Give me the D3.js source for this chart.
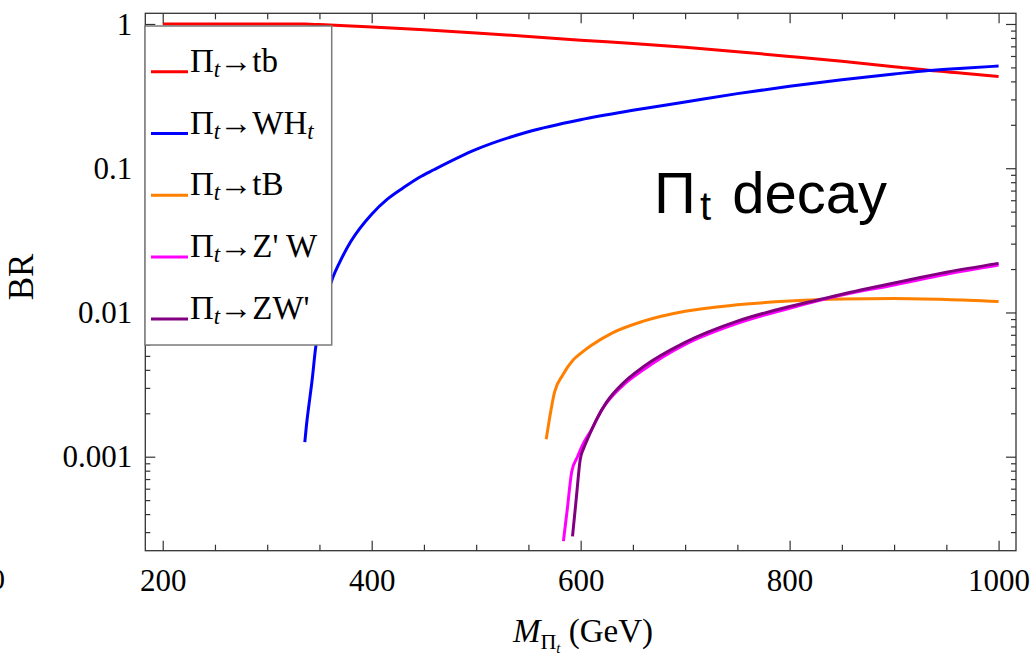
<!DOCTYPE html>
<html>
<head>
<meta charset="utf-8">
<script src="https://cdn.jsdelivr.net/npm/d3@7"></script>
<style>
  html, body { margin: 0; padding: 0; background: #fff; }
  svg { display: block; }
  .tick text { font-family: "Liberation Serif", "Times New Roman", serif; font-size: 31px; fill: #000; }
</style>
</head>
<body>
<svg id="chart" width="1034" height="655"></svg>
<script>
// Branching ratios of the top-pion Π_t versus its mass (GeV)
const massTb   = [200, 300, 336, 350, 380, 400, 450, 500, 550, 600, 650, 700, 750, 800, 850, 900, 933, 966, 1000];
const brTb     = [1.0, 1.0, 0.999, 0.99, 0.969, 0.952, 0.911, 0.866, 0.82, 0.772, 0.733, 0.69, 0.643, 0.596, 0.551, 0.506, 0.477, 0.455, 0.433];

const massWHt  = [336, 338, 340, 343, 346.5, 350, 355, 363, 369, 380, 400, 415, 430, 445, 460, 500, 550, 600, 650, 700, 750, 800, 850, 900, 933, 966, 1000];
const brWHt    = [0.00126, 0.00176, 0.0023, 0.0034, 0.0058, 0.0078, 0.0115, 0.0176, 0.022, 0.031, 0.048, 0.061, 0.073, 0.086, 0.098, 0.135, 0.179, 0.217, 0.252, 0.288, 0.329, 0.37, 0.41, 0.45, 0.476, 0.494, 0.511];

const massTB   = [567, 570, 575, 583, 593, 600, 610, 630, 660, 700, 750, 800, 850, 900, 950, 1000];
const brTB     = [0.00132, 0.0018, 0.0028, 0.0037, 0.0047, 0.0052, 0.0059, 0.0072, 0.0087, 0.0102, 0.0113, 0.012, 0.0124, 0.0125, 0.0123, 0.0119];

const massZpW  = [583.5, 587, 591.5, 597, 602.7, 610, 620, 640, 660, 700, 750, 800, 850, 900, 950, 1000];
const brZpW    = [0.00026, 0.00042, 0.00079, 0.001, 0.00124, 0.00152, 0.0021, 0.0031, 0.004, 0.006, 0.0084, 0.0107, 0.0132, 0.0155, 0.0184, 0.0213];

const massZWp  = [592.2, 596, 599.5, 603, 607.5, 615, 625, 640, 660, 700, 750, 800, 827, 868, 900, 950, 1000];
const brZWp    = [0.00028, 0.00053, 0.00095, 0.00115, 0.00137, 0.0018, 0.0024, 0.0032, 0.0042, 0.0062, 0.0087, 0.011, 0.0122, 0.0143, 0.016, 0.019, 0.0219];

const xMajorTicks = [200, 400, 600, 800, 1000];
const xTickLabels = ["200", "400", "600", "800", "1000"];
const yMajorTicks = [0.001, 0.01, 0.1, 1];
const yTickLabels = ["0.001", "0.01", "0.1", "1"];

const seriesColors = ["#ff0000", "#0000ff", "#ff8000", "#ff00ff", "#800080"];
const legendTargets = [["tb", null], ["WH", "t"], ["tB", null], ["Z' W", null], ["ZW'", null]];

const series = [
  { m: massTb,  v: brTb  },
  { m: massWHt, v: brWHt },
  { m: massTB,  v: brTB  },
  { m: massZpW, v: brZpW },
  { m: massZWp, v: brZWp }
];

const svg = d3.select("#chart");
const plotL = 145.3, plotR = 1016, plotT = 13.3, plotB = 550.7;

const x = d3.scaleLinear().domain([183.33, 1016.67]).range([plotL, plotR]);
const y = d3.scaleLog().domain([2.23e-4, 1.186]).range([plotB, plotT]);

// minor tick positions
const xMinor = d3.range(250, 1001, 50).filter(d => d % 200 !== 0);
const yMinor = [];
for (let k = -4; k <= -1; k++) {
  for (let j = 2; j <= 9; j++) {
    const val = j * Math.pow(10, k);
    if (val >= 2.23e-4 && val <= 1.186) yMinor.push(val);
  }
}

const frameColor = "#333";

function styleAxis(g) {
  g.select(".domain").remove();
  g.selectAll(".tick line").attr("stroke", frameColor).attr("stroke-width", 1.2);
}

// plot curves (clipped to frame)
svg.append("clipPath").attr("id", "plotClip")
  .append("rect").attr("x", plotL).attr("y", plotT).attr("width", plotR - plotL).attr("height", plotB - plotT);

const line = d3.line()
  .x(d => x(d[0]))
  .y(d => y(d[1]))
  .curve(d3.curveMonotoneX);

const curves = svg.append("g").attr("clip-path", "url(#plotClip)");
series.forEach((s, i) => {
  curves.append("path")
    .datum(s.m.map((m, j) => [m, s.v[j]]))
    .attr("fill", "none")
    .attr("stroke", seriesColors[i])
    .attr("stroke-width", 3)
    .attr("stroke-linejoin", "round")
    .attr("d", line);
});

// bottom axis
svg.append("g").attr("transform", `translate(0,${plotB})`)
  .call(d3.axisBottom(x).tickValues(xMajorTicks).tickSize(-10).tickPadding(12)
    .tickFormat((d, i) => xTickLabels[i]))
  .call(styleAxis)
  .call(g => g.selectAll(".tick text").attr("dy", "0.9em"));
svg.append("g").attr("transform", `translate(0,${plotB})`)
  .call(d3.axisBottom(x).tickValues(xMinor).tickSize(-6).tickFormat(""))
  .call(styleAxis);

// top axis (ticks only)
svg.append("g").attr("transform", `translate(0,${plotT})`)
  .call(d3.axisTop(x).tickValues(xMajorTicks).tickSize(-10).tickFormat(""))
  .call(styleAxis);
svg.append("g").attr("transform", `translate(0,${plotT})`)
  .call(d3.axisTop(x).tickValues(xMinor).tickSize(-6).tickFormat(""))
  .call(styleAxis);

// left axis
svg.append("g").attr("transform", `translate(${plotL},0)`)
  .call(d3.axisLeft(y).tickValues(yMajorTicks).tickSize(-10).tickPadding(13)
    .tickFormat((d, i) => yTickLabels[i]))
  .call(styleAxis)
  .call(g => g.selectAll(".tick text").attr("dy", "0.33em"));
svg.append("g").attr("transform", `translate(${plotL},0)`)
  .call(d3.axisLeft(y).tickValues(yMinor).tickSize(-5).tickFormat(""))
  .call(styleAxis);

// right axis (ticks only)
svg.append("g").attr("transform", `translate(${plotR},0)`)
  .call(d3.axisRight(y).tickValues(yMajorTicks).tickSize(-10).tickFormat(""))
  .call(styleAxis);
svg.append("g").attr("transform", `translate(${plotR},0)`)
  .call(d3.axisRight(y).tickValues(yMinor).tickSize(-5).tickFormat(""))
  .call(styleAxis);

// frame
svg.append("rect")
  .attr("x", plotL).attr("y", plotT)
  .attr("width", plotR - plotL).attr("height", plotB - plotT)
  .attr("fill", "none").attr("stroke", frameColor).attr("stroke-width", 1.3);

// axis titles
svg.append("text")
  .attr("transform", "translate(33,277) rotate(-90)")
  .attr("text-anchor", "middle")
  .style("font-family", "'Liberation Serif', 'Times New Roman', serif")
  .style("font-size", "35px")
  .text("BR");

const xTitle = svg.append("text")
  .attr("x", 583).attr("y", 642)
  .attr("text-anchor", "middle")
  .style("font-family", "'Liberation Serif', 'Times New Roman', serif")
  .style("font-size", "33px");
xTitle.append("tspan").style("font-style", "italic").text("M");
xTitle.append("tspan").attr("dy", 7).style("font-size", "22px").text("Π");
xTitle.append("tspan").attr("dy", 4).style("font-size", "15px").style("font-style", "italic").text("t");
xTitle.append("tspan").attr("dy", -11).text(" (GeV)");

// clipped glyph at the left edge
svg.append("text")
  .attr("x", 5).attr("y", 589)
  .attr("text-anchor", "end")
  .style("font-family", "'Liberation Serif', 'Times New Roman', serif")
  .style("font-size", "30px")
  .text("0");

// in-plot title
const title = svg.append("text")
  .attr("x", 654).attr("y", 213)
  .style("font-family", "'Liberation Sans', Arial, sans-serif")
  .style("font-size", "58px");
title.append("tspan").text("Π");
title.append("tspan").attr("dx", 4).attr("dy", 7).style("font-size", "40px").text("t");
title.append("tspan").attr("dx", 5).attr("dy", -7).text(" decay");

// legend
const legend = svg.append("g");
legend.append("rect")
  .attr("x", 145).attr("y", 26)
  .attr("width", 186.7).attr("height", 319)
  .attr("fill", "#fff")
  .attr("stroke", "#7a7a7a").attr("stroke-width", 1.5);

const legendRows = d3.range(legendTargets.length).map(i => 71.7 + i * 61.8);
legendTargets.forEach((tg, i) => {
  const yy = legendRows[i];
  legend.append("line")
    .attr("x1", 151).attr("x2", 188)
    .attr("y1", yy).attr("y2", yy)
    .attr("stroke", seriesColors[i]).attr("stroke-width", 3);
  const t = legend.append("text")
    .attr("x", 190).attr("y", yy)
    .style("font-family", "'Liberation Serif', 'Times New Roman', serif")
    .style("font-size", "33px");
  t.append("tspan").text("Π");
  t.append("tspan").attr("dy", 5).style("font-size", "23px").style("font-style", "italic").text("t");
  t.append("tspan").attr("dy", -5).attr("dx", -1).text("→" + tg[0]);
  if (tg[1]) {
    t.append("tspan").attr("dy", 5).style("font-size", "23px").style("font-style", "italic").text(tg[1]);
  }
});
</script>
</body>
</html>
